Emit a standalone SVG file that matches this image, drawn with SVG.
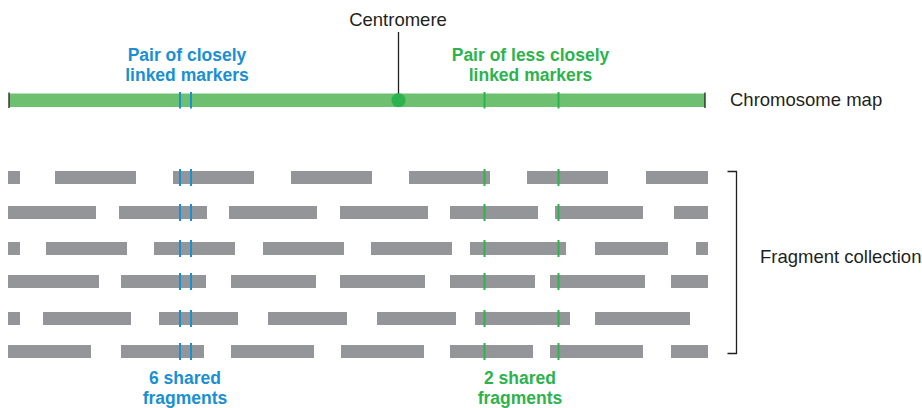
<svg xmlns="http://www.w3.org/2000/svg" width="922" height="408" viewBox="0 0 922 408">
<style>
.t{font-family:"Liberation Sans",Arial,sans-serif;font-size:18.5px;fill:#231f20}
.b{font-family:"Liberation Sans",Arial,sans-serif;font-size:17.5px;font-weight:bold;text-anchor:middle}
.blue{fill:#1a8fd2}
.green{fill:#2cb34d}
.frag rect{fill:#939598;height:13px}
.mb{stroke:#1a8fd2;stroke-width:2}
.mg{stroke:#2cb34d;stroke-width:2}
.k{stroke:#231f20;stroke-width:1.3;fill:none}
</style>
<rect width="922" height="408" fill="#fff"/>
<g id="chromosome">
<rect x="9" y="93.5" width="696" height="13.5" fill="#6cc070"/>
<line class="k" x1="9" y1="92.5" x2="9" y2="108"/>
<line class="k" x1="705" y1="92.5" x2="705" y2="108"/>
<line class="mb" x1="180" y1="92" x2="180" y2="108.5"/>
<line class="mb" x1="191" y1="92" x2="191" y2="108.5"/>
<line class="mg" x1="484.5" y1="92" x2="484.5" y2="108.5"/>
<line class="mg" x1="558.5" y1="92" x2="558.5" y2="108.5"/>
<text class="t" x="730" y="106">Chromosome map</text>
</g>
<g id="centromere">
<line class="k" x1="398.5" y1="32" x2="398.5" y2="95"/>
<circle cx="398.5" cy="100.3" r="7" fill="#2cb34d"/>
<text class="t" x="398" y="26" text-anchor="middle">Centromere</text>
</g>
<g id="close-label">
<text class="b blue" x="187" y="61">Pair of closely</text>
<text class="b blue" x="187" y="81">linked markers</text>
</g>
<g id="less-close-label">
<text class="b green" x="530.5" y="61">Pair of less closely</text>
<text class="b green" x="530.5" y="81">linked markers</text>
</g>
<g id="fragments" class="frag">
<g id="row1">
<rect x="8" y="171" width="12"/><rect x="55" y="171" width="81"/><rect x="173" y="171" width="81"/><rect x="291" y="171" width="81"/><rect x="409" y="171" width="81"/><rect x="527" y="171" width="81"/><rect x="646" y="171" width="62"/>
</g>
<g id="row2">
<rect x="8" y="206" width="88"/><rect x="119" y="206" width="88"/><rect x="229" y="206" width="88"/><rect x="340" y="206" width="88"/><rect x="450" y="206" width="88"/><rect x="555" y="206" width="88"/><rect x="674" y="206" width="34"/>
</g>
<g id="row3">
<rect x="8" y="242" width="12"/><rect x="46" y="242" width="81"/><rect x="154" y="242" width="81"/><rect x="263" y="242" width="81"/><rect x="371" y="242" width="81"/><rect x="470" y="242" width="96"/><rect x="595" y="242" width="73"/><rect x="696" y="242" width="12"/>
</g>
<g id="row4">
<rect x="8" y="275" width="91"/><rect x="121" y="275" width="85"/><rect x="231" y="275" width="85"/><rect x="340" y="275" width="85"/><rect x="450" y="275" width="85"/><rect x="550" y="275" width="95"/><rect x="671" y="275" width="37"/>
</g>
<g id="row5">
<rect x="8" y="312" width="12"/><rect x="43" y="312" width="88"/><rect x="159" y="312" width="79"/><rect x="268" y="312" width="79"/><rect x="377" y="312" width="79"/><rect x="475" y="312" width="95"/><rect x="595" y="312" width="95"/>
</g>
<g id="row6">
<rect x="8" y="345" width="83"/><rect x="121" y="345" width="83"/><rect x="231" y="345" width="83"/><rect x="341" y="345" width="83"/><rect x="450" y="345" width="83"/><rect x="550" y="345" width="93"/><rect x="671" y="345" width="37"/>
</g>
</g>
<g id="markers">
<g class="mb">
<line x1="180" y1="169" x2="180" y2="186"/><line x1="191" y1="169" x2="191" y2="186"/>
<line x1="180" y1="204" x2="180" y2="221"/><line x1="191" y1="204" x2="191" y2="221"/>
<line x1="180" y1="240" x2="180" y2="257"/><line x1="191" y1="240" x2="191" y2="257"/>
<line x1="180" y1="273" x2="180" y2="290"/><line x1="191" y1="273" x2="191" y2="290"/>
<line x1="180" y1="310" x2="180" y2="327"/><line x1="191" y1="310" x2="191" y2="327"/>
<line x1="180" y1="343" x2="180" y2="360"/><line x1="191" y1="343" x2="191" y2="360"/>
</g>
<g class="mg">
<line x1="484.5" y1="169" x2="484.5" y2="186"/><line x1="558.5" y1="169" x2="558.5" y2="186"/>
<line x1="484.5" y1="204" x2="484.5" y2="221"/><line x1="558.5" y1="204" x2="558.5" y2="221"/>
<line x1="484.5" y1="240" x2="484.5" y2="257"/><line x1="558.5" y1="240" x2="558.5" y2="257"/>
<line x1="484.5" y1="273" x2="484.5" y2="290"/><line x1="558.5" y1="273" x2="558.5" y2="290"/>
<line x1="484.5" y1="310" x2="484.5" y2="327"/><line x1="558.5" y1="310" x2="558.5" y2="327"/>
<line x1="484.5" y1="343" x2="484.5" y2="360"/><line x1="558.5" y1="343" x2="558.5" y2="360"/>
</g>
</g>
<g id="collection">
<path class="k" d="M727.5 171.5 H736.5 V353.5 H727.5"/>
<text class="t" x="760" y="263">Fragment collection</text>
</g>
<g id="shared6">
<text class="b blue" x="185" y="384">6 shared</text>
<text class="b blue" x="185" y="404">fragments</text>
</g>
<g id="shared2">
<text class="b green" x="520" y="384">2 shared</text>
<text class="b green" x="520" y="404">fragments</text>
</g>
</svg>
